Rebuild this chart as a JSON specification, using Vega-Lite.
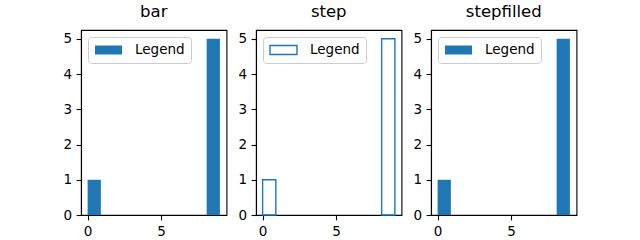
{
  "$schema": "https://vega.github.io/schema/vega-lite/v6.json",
  "padding": {"left": 62, "top": 2, "right": 5, "bottom": 0},
  "background": "white",
  "datasets": {
    "bins": [
      {"lo": 0.0, "hi": 0.9, "count": 1},
      {"lo": 0.9, "hi": 1.8, "count": 0},
      {"lo": 1.8, "hi": 2.7, "count": 0},
      {"lo": 2.7, "hi": 3.6, "count": 0},
      {"lo": 3.6, "hi": 4.5, "count": 0},
      {"lo": 4.5, "hi": 5.4, "count": 0},
      {"lo": 5.4, "hi": 6.3, "count": 0},
      {"lo": 6.3, "hi": 7.2, "count": 0},
      {"lo": 7.2, "hi": 8.1, "count": 0},
      {"lo": 8.1, "hi": 9.0, "count": 5}
    ]
  },
  "config": {
    "font": "DejaVu Sans",
    "view": {"stroke": "black", "strokeWidth": 1.1},
    "concat": {"spacing": 9},
    "axis": {
      "grid": false,
      "domainColor": "black",
      "domainWidth": 1.1,
      "tickColor": "black",
      "tickWidth": 1.1,
      "tickSize": 4.9,
      "labelPadding": 4.5,
      "labelColor": "black",
      "labelFontSize": 13.5,
      "labelFont": "DejaVu Sans",
      "title": null,
      "zindex": 1
    },
    "title": {
      "fontSize": 16.5,
      "fontWeight": "normal",
      "font": "DejaVu Sans",
      "color": "black",
      "baseline": "alphabetic",
      "offset": 10
    },
    "legend": {
      "orient": "top-left",
      "offset": 6.6,
      "padding": 6,
      "clipHeight": 14,
      "fillColor": "white",
      "strokeColor": "#cccccc",
      "cornerRadius": 3,
      "symbolType": "M-1,-0.33H1V0.33H-1Z",
      "symbolSize": 729,
      "symbolOffset": 0,
      "labelOffset": 12,
      "labelFontSize": 13.5,
      "labelFont": "DejaVu Sans",
      "labelColor": "black",
      "title": null
    }
  },
  "hconcat": [
    {
      "title": "bar",
      "width": 145.5,
      "height": 185,
      "data": {"name": "bins"},
      "mark": {"type": "bar", "stroke": null},
      "encoding": {
        "x": {"field": "lo", "type": "quantitative", "scale": {"domain": [-0.45, 9.45], "nice": false, "zero": false}, "axis": {"values": [0, 5]}},
        "x2": {"field": "hi"},
        "y": {"field": "count", "type": "quantitative", "scale": {"domain": [0, 5.25], "nice": false}, "axis": {"values": [0, 1, 2, 3, 4, 5]}},
        "y2": {"datum": 0},
        "color": {"datum": "Legend", "type": "nominal", "scale": {"range": ["#1f77b4"]}}
      }
    },
    {
      "title": "step",
      "width": 145.5,
      "height": 185,
      "data": {"name": "bins"},
      "transform": [{"filter": "datum.count > 0"}],
      "mark": {"type": "bar", "filled": false, "strokeWidth": 1.4},
      "encoding": {
        "x": {"field": "lo", "type": "quantitative", "scale": {"domain": [-0.45, 9.45], "nice": false, "zero": false}, "axis": {"values": [0, 5]}},
        "x2": {"field": "hi"},
        "y": {"field": "count", "type": "quantitative", "scale": {"domain": [0, 5.25], "nice": false}, "axis": {"values": [0, 1, 2, 3, 4, 5]}},
        "y2": {"datum": 0},
        "color": {"datum": "Legend", "type": "nominal", "scale": {"range": ["#1f77b4"]}, "legend": {"symbolStrokeWidth": 1.4}}
      }
    },
    {
      "title": "stepfilled",
      "width": 145.5,
      "height": 185,
      "data": {"name": "bins"},
      "mark": {"type": "bar", "stroke": null},
      "encoding": {
        "x": {"field": "lo", "type": "quantitative", "scale": {"domain": [-0.45, 9.45], "nice": false, "zero": false}, "axis": {"values": [0, 5]}},
        "x2": {"field": "hi"},
        "y": {"field": "count", "type": "quantitative", "scale": {"domain": [0, 5.25], "nice": false}, "axis": {"values": [0, 1, 2, 3, 4, 5]}},
        "y2": {"datum": 0},
        "color": {"datum": "Legend", "type": "nominal", "scale": {"range": ["#1f77b4"]}}
      }
    }
  ],
  "resolve": {"scale": {"color": "independent"}, "legend": {"color": "independent"}}
}
